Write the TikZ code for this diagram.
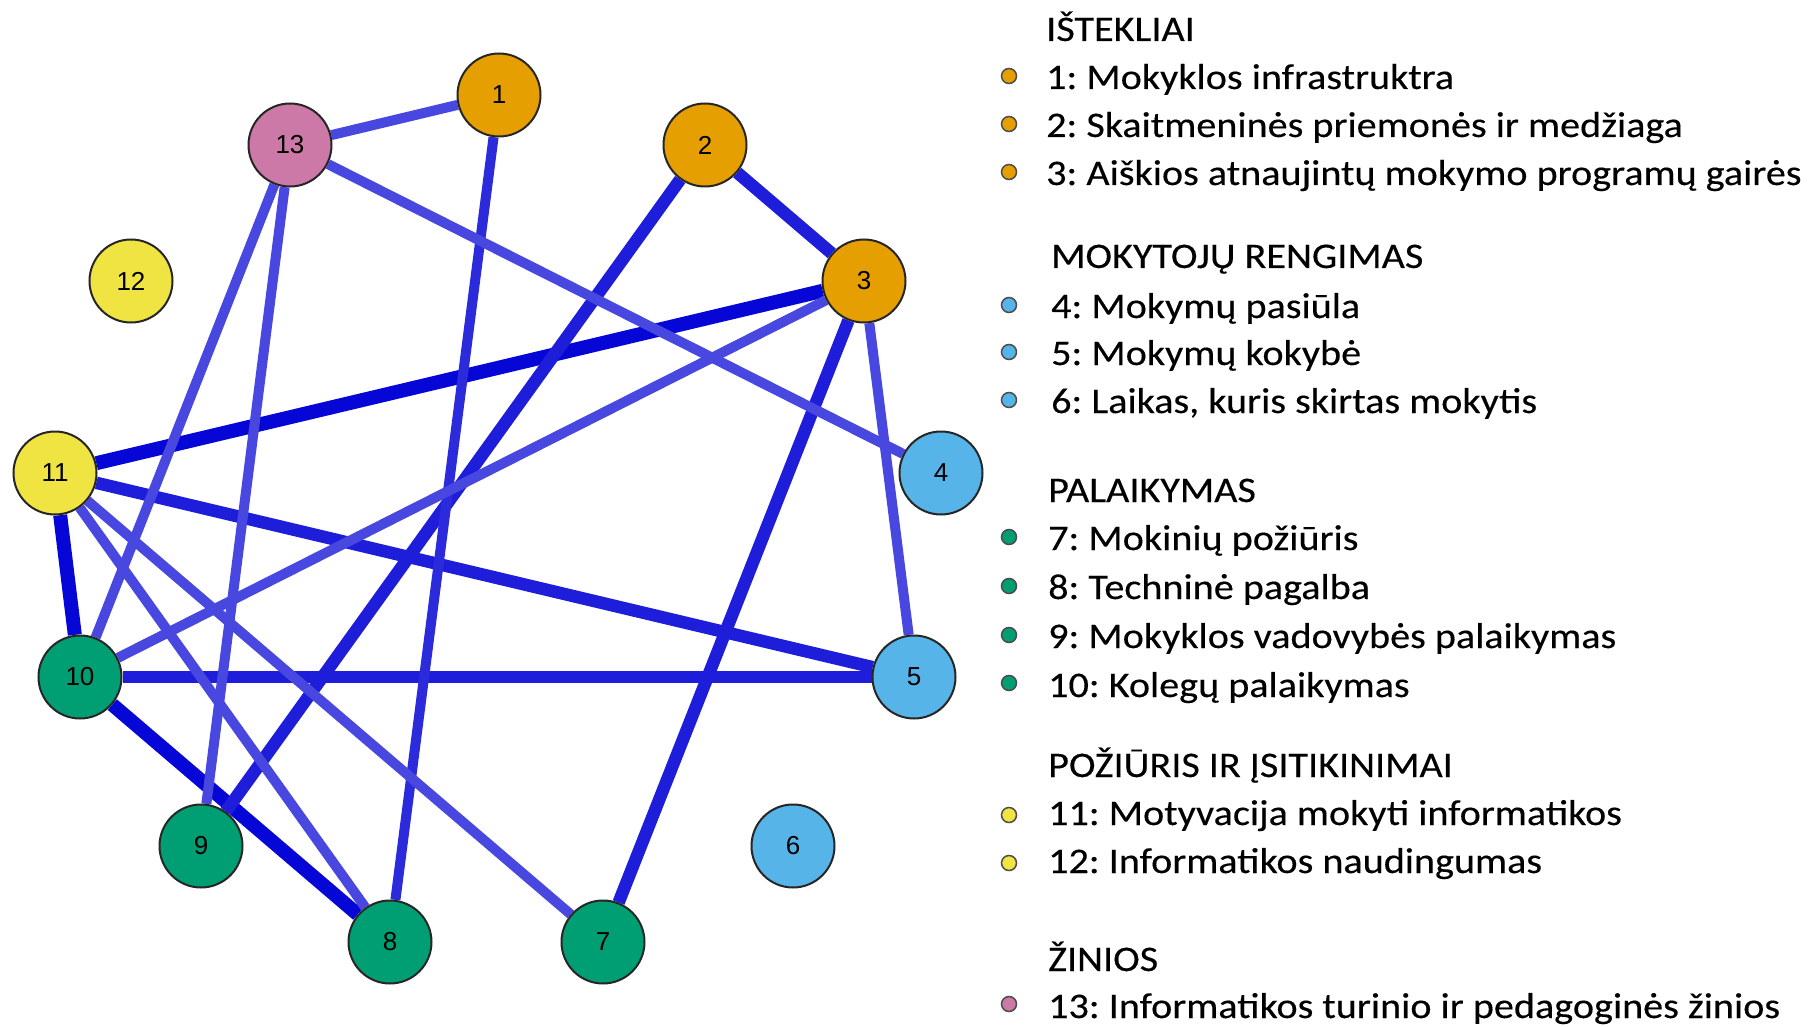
\documentclass[tikz,border=0pt]{standalone}
\usepackage{fontspec}
\setmainfont[FakeStretch=1.115,FakeBold=0.3]{Carlito}
\newfontfamily\numfont{Liberation Sans}
\usepackage{xcolor}
\usepackage{tikz}
\usetikzlibrary{backgrounds}
\frenchspacing

\definecolor{resorange}{HTML}{E69F00}
\definecolor{resblue}{HTML}{56B4E9}
\definecolor{resgreen}{HTML}{009E73}
\definecolor{resyellow}{HTML}{F0E442}
\definecolor{respink}{HTML}{CC79A7}
\definecolor{tieA}{HTML}{0606D6}
\definecolor{tieB}{HTML}{1E1EDA}
\definecolor{tieC}{HTML}{4848E0}

\begin{document}
\begin{tikzpicture}[
  x=1pt,y=-1pt,
  factor/.style={circle,draw=black!85,line width=2pt,minimum size=83pt,inner sep=0pt,font=\numfont\fontsize{26}{26}\selectfont},
  dot/.style={circle,draw=black!70,line width=1.5pt,minimum size=15pt,inner sep=0pt},
  legtext/.style={anchor=base west,inner sep=0pt,font=\fontsize{36}{40}\selectfont},
  tiestrong/.style={line width=14pt,draw=tieA},
  tiemid/.style={line width=12.5pt,draw=tieB},
  tieweak/.style={line width=10pt,draw=tieC},
]
\useasboundingbox (0,0) rectangle (1808,1027);

% factors
\node[factor,fill=resorange] (f1)  at (499,95)  {1};
\node[factor,fill=resorange] (f2)  at (705,145) {2};
\node[factor,fill=resorange] (f3)  at (864,281) {3};
\node[factor,fill=resblue]   (f4)  at (941,473) {4};
\node[factor,fill=resblue]   (f5)  at (914,677) {5};
\node[factor,fill=resblue]   (f6)  at (793,846) {6};
\node[factor,fill=resgreen]  (f7)  at (603,942) {7};
\node[factor,fill=resgreen]  (f8)  at (390,942) {8};
\node[factor,fill=resgreen]  (f9)  at (201,846) {9};
\node[factor,fill=resgreen]  (f10) at (80,677)  {10};
\node[factor,fill=resyellow] (f11) at (55,473)  {11};
\node[factor,fill=resyellow] (f12) at (131,281) {12};
\node[factor,fill=respink]   (f13) at (290,145) {13};

% links
\begin{pgfonlayer}{background}
\draw[tiestrong] (f11) -- (f3);
\draw[tiestrong] (f11) -- (f10);
\draw[tiestrong] (f10) -- (f8);
\draw[tiemid]    (f11) -- (f5);
\draw[tiemid]    (f10) -- (f5);
\draw[tiemid]    (f2)  -- (f3);
\draw[tiemid]    (f2)  -- (f9);
\draw[tiemid]    (f3)  -- (f7);
\draw[tieweak,draw=tieB!70!tieC] (f1) -- (f8);
\draw[tieweak]   (f13) -- (f1);
\draw[tieweak]   (f13) -- (f4);
\draw[tieweak]   (f13) -- (f10);
\draw[tieweak]   (f13) -- (f9);
\draw[tieweak]   (f3)  -- (f10);
\draw[tieweak]   (f3)  -- (f5);
\draw[tieweak]   (f11) -- (f8);
\draw[tieweak]   (f11) -- (f7);
\end{pgfonlayer}

% legend
\node[legtext] (g1) at (1046,41)  {IŠTEKLIAI};
\node[dot,fill=resorange] (d1) at (1009,76) {};
\node[legtext] (t1) at (1046,89)  {1: Mokyklos infrastruktra};
\node[dot,fill=resorange] (d2) at (1009,124) {};
\node[legtext] (t2) at (1046,137) {2: Skaitmeninės priemonės ir medžiaga};
\node[dot,fill=resorange] (d3) at (1009,172) {};
\node[legtext] (t3) at (1046,185) {3: Aiškios atnaujintų mokymo programų gairės};

\node[legtext] (g2) at (1051,268) {MOKYTOJŲ RENGIMAS};
\node[dot,fill=resblue] (d4) at (1009,305) {};
\node[legtext] (t4) at (1051,318) {4: Mokymų pasiūla};
\node[dot,fill=resblue] (d5) at (1009,352) {};
\node[legtext] (t5) at (1051,365) {5: Mokymų kokybė};
\node[dot,fill=resblue] (d6) at (1009,400) {};
\node[legtext] (t6) at (1051,413) {6: Laikas, kuris skirtas mokytis};

\node[legtext] (g3) at (1048,502) {PALAIKYMAS};
\node[dot,fill=resgreen] (d7) at (1009,537) {};
\node[legtext] (t7) at (1048,550) {7: Mokinių požiūris};
\node[dot,fill=resgreen] (d8) at (1009,586) {};
\node[legtext] (t8) at (1048,599) {8: Techninė pagalba};
\node[dot,fill=resgreen] (d9) at (1009,635) {};
\node[legtext] (t9) at (1048,648) {9: Mokyklos vadovybės palaikymas};
\node[dot,fill=resgreen] (d10) at (1009,683) {};
\node[legtext] (t10) at (1048,697) {10: Kolegų palaikymas};

\node[legtext] (g4) at (1048,777) {POŽIŪRIS IR ĮSITIKINIMAI};
\node[dot,fill=resyellow] (d11) at (1009,815) {};
\node[legtext] (t11) at (1048,825) {11: Motyvacija mokyti informatikos};
\node[dot,fill=resyellow] (d12) at (1009,863) {};
\node[legtext] (t12) at (1048,873) {12: Informatikos naudingumas};

\node[legtext] (g5) at (1048,971) {ŽINIOS};
\node[dot,fill=respink] (d13) at (1009,1004) {};
\node[legtext] (t13) at (1048,1018) {13: Informatikos turinio ir pedagoginės žinios};
\end{tikzpicture}
\end{document}
